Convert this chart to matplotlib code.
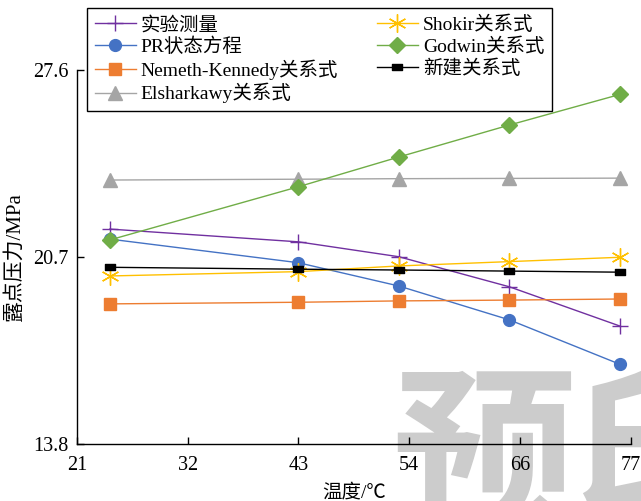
import matplotlib
matplotlib.use("Agg")
import matplotlib.pyplot as plt
from matplotlib.path import Path

plt.rcParams['font.family'] = ['Liberation Serif', 'Noto Sans CJK SC']
plt.rcParams['axes.unicode_minus'] = False

# Temperature (°C) of each measurement
temperature = [24.4, 43.3, 53.4, 64.5, 75.6]

# Dew point pressure (MPa) per method
measured = [21.73, 21.26, 20.71, 19.60, 18.15]
pr_eos = [21.36, 20.49, 19.63, 18.38, 16.74]
nemeth_kennedy = [18.97, 19.03, 19.08, 19.11, 19.15]
elsharkawy = [23.54, 23.57, 23.59, 23.60, 23.61]
shokir = [20.00, 20.16, 20.37, 20.53, 20.69]
godwin = [21.33, 23.29, 24.39, 25.57, 26.70]
new_corr = [20.32, 20.25, 20.22, 20.18, 20.14]

series_labels = ["实验测量", "PR状态方程", "Nemeth-Kennedy关系式", "Elsharkawy关系式",
                 "Shokir关系式", "Godwin关系式", "新建关系式"]

x_ticks = [21.1, 32.2, 43.3, 54.4, 65.6, 76.7]
x_tick_labels = ["21", "32", "43", "54", "66", "77"]
y_ticks = [13.8, 20.7, 27.6]
y_tick_labels = ["13.8", "20.7", "27.6"]

W, H = 641, 501
fig = plt.figure(figsize=(W / 100, H / 100), dpi=100)
ax = fig.add_axes([77 / W, 1 - 444 / H, (631 - 77) / W, (444 - 70) / H])
ax.patch.set_alpha(0)

# flat dash marker for the new correlation
dash = Path([(-1, -0.55), (1, -0.55), (1, 0.55), (-1, 0.55), (-1, -0.55)],
            [Path.MOVETO, Path.LINETO, Path.LINETO, Path.LINETO, Path.CLOSEPOLY])

styles = [
    (measured, dict(color="#7030A0", marker="+", ms=12, mew=1.0)),
    (pr_eos, dict(color="#4472C4", marker="o", ms=8.5)),
    (nemeth_kennedy, dict(color="#ED7D31", marker="s", ms=8)),
    (elsharkawy, dict(color="#A5A5A5", marker="^", ms=10)),
    (shokir, dict(color="#FFC000", marker=(6, 2, 0), ms=13, mew=1.0)),
    (godwin, dict(color="#70AD47", marker="D", ms=8)),
    (new_corr, dict(color="#000000", marker=dash, ms=7)),
]

handles = []
for (vals, st), lab in zip(styles, series_labels):
    h, = ax.plot(temperature, vals, lw=1.0, label=lab, clip_on=False, **st)
    handles.append(h)

ax.set_xlim(x_ticks[0], x_ticks[-1])
ax.set_ylim(y_ticks[0], y_ticks[-1])
ax.set_xticks(x_ticks)
ax.set_xticklabels(x_tick_labels)
ax.set_yticks(y_ticks)
ax.set_yticklabels(y_tick_labels)
ax.tick_params(axis="both", direction="in", length=5, width=1, labelsize=14.5, colors="black")
ax.tick_params(axis="x", pad=9)
ax.tick_params(axis="y", pad=6)
for s in ("top", "right"):
    ax.spines[s].set_visible(False)
for s in ("left", "bottom"):
    ax.spines[s].set_linewidth(1.0)

ax.set_xlabel("温度/℃", fontsize=14, labelpad=6)
ax.set_ylabel("露点压力/MPa", fontsize=15, labelpad=6)

leg = fig.legend(handles, series_labels, ncol=2, loc="upper left",
                 bbox_to_anchor=(87 / W, 1 - 8 / H), fontsize=14,
                 frameon=True, fancybox=False, framealpha=1, edgecolor="black",
                 handlelength=2.1, handletextpad=0.26, labelspacing=0.17,
                 columnspacing=2.0, borderpad=0.4, borderaxespad=0)
leg.get_frame().set_linewidth(1.0)

# faint background stamp
fig.text(392 / W, 1 - 374 / H, "预印", fontsize=132, color="#cccccc",
         family="Noto Sans CJK SC", weight="bold", ha="left", va="top", zorder=-5)

fig.savefig("out.png", dpi=100)
